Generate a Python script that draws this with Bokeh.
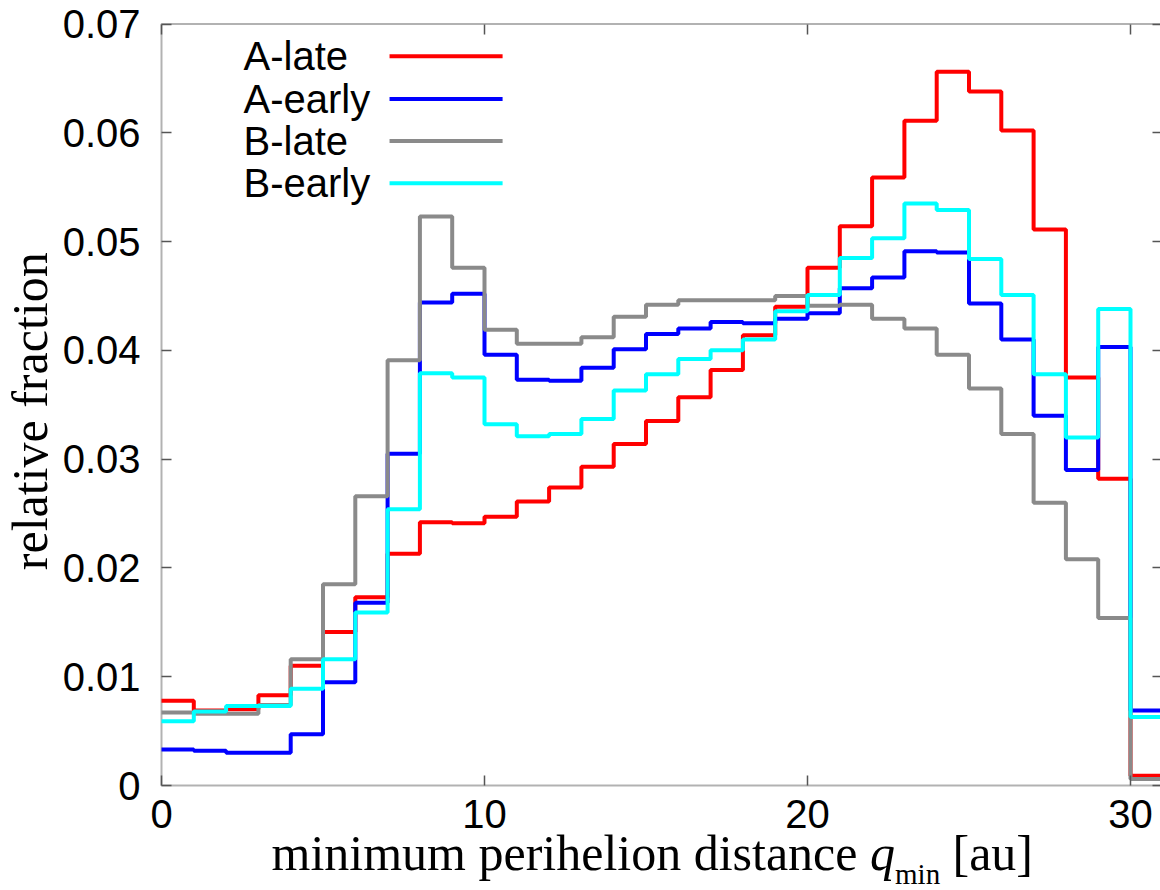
import math

from bokeh.embed import file_html
from bokeh.models import (BoxAnnotation, CustomLabelingPolicy, FixedTicker, Label,
                          LinearAxis, Range1d)
from bokeh.plotting import figure
from bokeh.resources import INLINE

# bin edges of the histogram (1 au wide bins)
edges = list(range(0, 32))

# relative fraction per bin
a_late = [0.0078, 0.0069, 0.0070, 0.0083, 0.0110, 0.0141, 0.0173, 0.0213, 0.0242, 0.0241,
          0.0247, 0.0261, 0.0274, 0.0293, 0.0314, 0.0335, 0.0357, 0.0382, 0.0414, 0.0440,
          0.0476, 0.0514, 0.0559, 0.0611, 0.0656, 0.0638, 0.0602, 0.0511, 0.0375, 0.0282,
          0.0009]
a_early = [0.0033, 0.0032, 0.0030, 0.0030, 0.0047, 0.0095, 0.0168, 0.0305, 0.0444, 0.0452,
           0.0396, 0.0373, 0.0372, 0.0384, 0.0401, 0.0415, 0.0420, 0.0426, 0.0425, 0.0429,
           0.0434, 0.0457, 0.0467, 0.0491, 0.0490, 0.0443, 0.0410, 0.0340, 0.0290, 0.0403,
           0.0069]
b_late = [0.0067, 0.0066, 0.0066, 0.0074, 0.0116, 0.0185, 0.0266, 0.0391, 0.0523, 0.0476,
          0.0419, 0.0406, 0.0406, 0.0412, 0.0431, 0.0442, 0.0446, 0.0446, 0.0446, 0.0450,
          0.0441, 0.0442, 0.0429, 0.0420, 0.0396, 0.0365, 0.0323, 0.0260, 0.0208, 0.0154,
          0.0006]
b_early = [0.0059, 0.0068, 0.0073, 0.0073, 0.0089, 0.0116, 0.0159, 0.0254, 0.0379, 0.0375,
           0.0332, 0.0321, 0.0323, 0.0337, 0.0363, 0.0378, 0.0392, 0.0400, 0.0410, 0.0436,
           0.0451, 0.0485, 0.0503, 0.0535, 0.0529, 0.0484, 0.0451, 0.0378, 0.0320, 0.0438,
           0.0063]

series_names = ["A-late", "A-early", "B-late", "B-early"]
series_colors = ["#ff0000", "#0000ff", "#8a8a8a", "#00ffff"]

x_ticks = [0, 10, 20, 30]
y_ticks = [0, 0.01, 0.02, 0.03, 0.04, 0.05, 0.06, 0.07]
y_tick_labels = ["0", "0.01", "0.02", "0.03", "0.04", "0.05", "0.06", "0.07"]

SANS = "Liberation Sans"
SERIF = "Liberation Serif"

# page geometry: the plotting frame fills the whole canvas and the axes are pinned
# at the data box, so the titles (drawn as labels) stay inside the frame
W, H = 1160, 890
BOX_LEFT, BOX_TOP, BOX_BOTTOM = 161, 23.5, 785   # pixel position of x=0, y=0.07, y=0
PX_X = 32.3                                      # pixels per au
px_y = (BOX_BOTTOM - BOX_TOP) / y_ticks[-1]      # pixels per unit fraction

x_range = Range1d(-BOX_LEFT / PX_X, (W - BOX_LEFT) / PX_X)
y_range = Range1d(-(H - BOX_BOTTOM) / px_y, BOX_BOTTOM / px_y)

p = figure(width=W, height=H, output_backend="svg", toolbar_location=None,
           x_range=x_range, y_range=y_range,
           min_border_left=0, min_border_right=0, min_border_top=0, min_border_bottom=0)
p.grid.visible = False
p.outline_line_color = None
p.background_fill_color = "white"
p.border_fill_color = "white"

# mirrored axes show ticks only
no_labels = CustomLabelingPolicy(code="""
const ids = Array.from(indices.ones ? indices.ones() : indices);
for (const i of ids) { indices.unset(i) }
return indices
""")


def style_axis(ax, labels=True):
    ax.axis_line_color = None
    ax.major_tick_in = 10
    ax.major_tick_out = 0
    ax.minor_tick_line_color = None
    ax.major_tick_line_color = "#555555"
    ax.major_tick_line_width = 1.5
    if labels:
        ax.major_label_text_font = SANS
        ax.major_label_text_font_size = "40px"
        ax.major_label_text_color = "black"
    else:
        ax.major_label_policy = no_labels
        ax.major_label_text_font_size = "1px"
        ax.major_label_standoff = 0


p.xaxis.ticker = FixedTicker(ticks=x_ticks)
p.yaxis.ticker = FixedTicker(ticks=y_ticks)
p.yaxis.major_label_overrides = dict(zip(y_ticks, y_tick_labels))
style_axis(p.xaxis[0])
style_axis(p.yaxis[0])
p.xaxis.fixed_location = 0
p.yaxis.fixed_location = 0
p.xaxis.major_label_standoff = 14
p.yaxis.major_label_standoff = 21

top_axis = LinearAxis(ticker=FixedTicker(ticks=x_ticks), fixed_location=y_ticks[-1])
style_axis(top_axis, labels=False)
p.add_layout(top_axis, "above")
right_axis = LinearAxis(ticker=FixedTicker(ticks=y_ticks), fixed_location=edges[-1])
style_axis(right_axis, labels=False)
p.add_layout(right_axis, "right")

# plot border
p.add_layout(BoxAnnotation(left=edges[0], right=edges[-1], bottom=y_ticks[0],
                           top=y_ticks[-1], fill_alpha=0, line_color="black",
                           line_width=2, level="underlay"))

# histogram steps
for vals, color in zip([a_late, a_early, b_late, b_early], series_colors):
    p.step(edges, vals + vals[-1:], mode="after", line_color=color, line_width=4)

# legend: text on the left, line sample on the right
legend_y = [0.06703, 0.06311, 0.05925, 0.05536]
for name, color, ly in zip(series_names, series_colors, legend_y):
    p.add_layout(Label(x=2.54, y=ly, text=name, text_font=SANS,
                       text_font_size="40px", text_baseline="middle",
                       text_align="left", text_color="black"))
    p.add_layout(BoxAnnotation(left=7.06, right=10.56, bottom=ly - 2 / px_y,
                               top=ly + 2 / px_y, fill_color=color, fill_alpha=1.0,
                               line_color=None))

# axis titles
p.add_layout(Label(x=-4.056, y=0.0344, angle=math.pi / 2, text="relative fraction",
                   text_font=SERIF, text_font_size="50px", text_align="center",
                   text_baseline="middle", text_color="black"))

xl_y = -0.00625
p.add_layout(Label(x=3.406, y=xl_y, text="minimum perihelion distance",
                   text_font=SERIF, text_font_size="50px",
                   text_baseline="middle", text_color="black"))
p.add_layout(Label(x=3.406, y=xl_y, x_offset=598.5, text="q", text_font=SERIF,
                   text_font_size="50px", text_font_style="italic",
                   text_baseline="middle", text_color="black"))
p.add_layout(Label(x=3.406, y=-0.00818, x_offset=623.5, text="min", text_font=SERIF,
                   text_font_size="29px", text_baseline="middle", text_color="black"))
p.add_layout(Label(x=3.406, y=xl_y, x_offset=681, text="[au]", text_font=SERIF,
                   text_font_size="50px", text_baseline="middle", text_color="black"))

open("out.html", "w").write(file_html(p, INLINE))
